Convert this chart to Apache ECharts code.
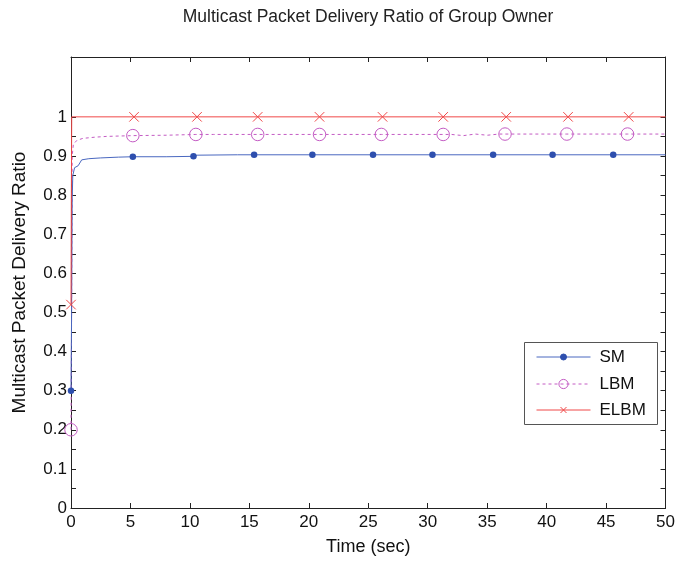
<!DOCTYPE html>
<html>
<head>
<meta charset="utf-8">
<script src="https://cdn.jsdelivr.net/npm/echarts@6/dist/echarts.min.js"></script>
<style>html,body{margin:0;padding:0;background:#fff}#chart{width:678px;height:561px}</style>
</head>
<body>
<div id="chart"></div>
<script>
// ---- data ----
const seriesNames = ['SM', 'LBM', 'ELBM'];
// curve samples (time in sec, ratio)
const smCurveT = [0, 0.05, 0.1, 0.15, 0.3, 0.6, 0.9, 1.5, 2.5, 4, 8, 10.4, 10.6, 14, 50];
const smCurveV = [0.3, 0.5, 0.79, 0.85, 0.87, 0.875, 0.89, 0.893, 0.895, 0.897, 0.898, 0.899, 0.902, 0.903, 0.903];
const smMarkT = [0, 5.2, 10.3, 15.4, 20.3, 25.4, 30.4, 35.5, 40.5, 45.6];
const smMarkV = [0.3, 0.898, 0.899, 0.903, 0.903, 0.903, 0.903, 0.903, 0.903, 0.903];

const lbmCurveT = [0, 0.05, 0.1, 0.2, 0.5, 1, 2, 3, 8, 12, 32, 33, 34, 35, 36, 50];
const lbmCurveV = [0.2, 0.5, 0.9, 0.93, 0.94, 0.945, 0.948, 0.95, 0.953, 0.955, 0.955, 0.952, 0.956, 0.953, 0.956, 0.956];
const lbmMarkT = [0, 5.2, 10.5, 15.7, 20.9, 26.1, 31.3, 36.5, 41.7, 46.8];
const lbmMarkV = [0.2, 0.952, 0.955, 0.955, 0.955, 0.955, 0.955, 0.956, 0.956, 0.956];

const elbmCurveT = [0, 0.03, 0.06, 50];
const elbmCurveV = [0.52, 0.8, 1.0, 1.0];
const elbmMarkT = [0, 5.3, 10.6, 15.7, 20.9, 26.2, 31.3, 36.6, 41.8, 46.9];
const elbmMarkV = [0.52, 1, 1, 1, 1, 1, 1, 1, 1, 1];

const xTicks = [0, 5, 10, 15, 20, 25, 30, 35, 40, 45, 50];
const yLabelTicks = [0, 0.1, 0.2, 0.3, 0.4, 0.5, 0.6, 0.7, 0.8, 0.9, 1];
const yTicks = [0, 0.05, 0.1, 0.15, 0.2, 0.25, 0.3, 0.35, 0.4, 0.45, 0.5, 0.55, 0.6, 0.65, 0.7, 0.75, 0.8, 0.85, 0.9, 0.95, 1];

// ---- build ----
function build(ct, cv, mt, mv) {
  const pts = [];
  ct.forEach((t, i) => pts.push({ t: t, v: cv[i], m: false }));
  mt.forEach((t, i) => pts.push({ t: t, v: mv[i], m: true }));
  pts.sort((a, b) => a.t - b.t || (a.m ? 1 : -1));
  return pts.map(p => p.m ? { value: [p.t, p.v] } : { value: [p.t, p.v], symbol: 'none' });
}

const FONT = 'Liberation Sans, Arial, sans-serif';
const crossPath = 'path://M0,0L10,10M10,0L0,10';
const colors = { SM: '#2E4FAE', SMline: '#4A68C0', LBM: '#C45CC4', ELBM: '#F04848' };

const chart = echarts.init(document.getElementById('chart'), null, { renderer: 'canvas' });
const axisLineStyle = { color: '#222', width: 1 };

function legendFor(name, top, itemHeight) {
  return {
    data: [name], orient: 'horizontal', left: 536, top: top, padding: 0,
    itemWidth: 54, itemHeight: itemHeight, z: 6,
    lineStyle: { width: 1 },
    itemStyle: { borderWidth: 1 },
    textStyle: { fontFamily: FONT, fontSize: 17, color: '#111', lineHeight: 18, padding: [0, 0, 0, 4] },
    selectedMode: false
  };
}

chart.setOption({
  animation: false,
  backgroundColor: '#fff',
  title: {
    text: 'Multicast Packet Delivery Ratio of Group Owner',
    left: 368, top: 8, textAlign: 'center', padding: 0,
    textStyle: { fontFamily: FONT, fontSize: 17.5, fontWeight: 'normal', color: '#222' }
  },
  graphic: [{
    type: 'rect', z: 1,
    shape: { x: 524.5, y: 342.5, width: 133, height: 82 },
    style: { fill: '#fff', stroke: '#555', lineWidth: 1 }
  }],
  grid: { left: 71, right: 12, top: 57, bottom: 53 },
  legend: [
    legendFor('SM', 348, 7.5),
    legendFor('LBM', 375, 11.5),
    legendFor('ELBM', 401, 7.5)
  ],
  xAxis: [{
    type: 'value', min: 0, max: 50, interval: 5, position: 'bottom',
    name: 'Time (sec)', nameLocation: 'middle', nameGap: 30,
    nameTextStyle: { fontFamily: FONT, fontSize: 18, color: '#111' },
    axisLine: { show: true, onZero: false, lineStyle: axisLineStyle },
    axisTick: { show: true, inside: true, length: 5, lineStyle: axisLineStyle, customValues: xTicks },
    axisLabel: { fontFamily: FONT, fontSize: 17, color: '#111', margin: 6, customValues: xTicks },
    splitLine: { show: false }
  }, {
    type: 'value', min: 0, max: 50, interval: 5, position: 'top',
    axisLine: { show: true, onZero: false, lineStyle: axisLineStyle },
    axisTick: { show: true, inside: true, length: 5, lineStyle: axisLineStyle, customValues: xTicks },
    axisLabel: { show: false }, splitLine: { show: false }
  }],
  yAxis: [{
    type: 'value', min: 0, max: 1.153, position: 'left',
    name: 'Multicast Packet Delivery Ratio', nameLocation: 'middle', nameGap: 42,
    nameTextStyle: { fontFamily: FONT, fontSize: 19, color: '#111' },
    axisLine: { show: true, onZero: false, lineStyle: axisLineStyle },
    axisTick: { show: true, inside: true, length: 5, lineStyle: axisLineStyle, customValues: yTicks },
    axisLabel: { fontFamily: FONT, fontSize: 17, color: '#111', margin: 4, customValues: yLabelTicks,
      formatter: v => String(Math.round(v * 10) / 10) },
    splitLine: { show: false }
  }, {
    type: 'value', min: 0, max: 1.153, position: 'right',
    axisLine: { show: true, onZero: false, lineStyle: axisLineStyle },
    axisTick: { show: true, inside: true, length: 5, lineStyle: axisLineStyle, customValues: yTicks },
    axisLabel: { show: false }, splitLine: { show: false }
  }],
  series: [{
    name: 'SM', type: 'line', xAxisIndex: 0, yAxisIndex: 0,
    data: build(smCurveT, smCurveV, smMarkT, smMarkV),
    symbol: 'circle', symbolSize: 6.5, showAllSymbol: true,
    lineStyle: { color: colors.SMline, width: 1 },
    itemStyle: { color: colors.SM, borderColor: colors.SM, borderWidth: 0 }, z: 3
  }, {
    name: 'LBM', type: 'line', xAxisIndex: 0, yAxisIndex: 0,
    data: build(lbmCurveT, lbmCurveV, lbmMarkT, lbmMarkV),
    symbol: 'circle', symbolSize: 12.5, showAllSymbol: true,
    lineStyle: { color: colors.LBM, width: 1, type: [3, 3] },
    itemStyle: { color: 'rgba(0,0,0,0)', borderColor: colors.LBM, borderWidth: 1 }, z: 2
  }, {
    name: 'ELBM', type: 'line', xAxisIndex: 0, yAxisIndex: 0,
    data: build(elbmCurveT, elbmCurveV, elbmMarkT, elbmMarkV),
    symbol: crossPath, symbolSize: 9.5, showAllSymbol: true,
    lineStyle: { color: colors.ELBM, width: 1 },
    itemStyle: { color: 'rgba(0,0,0,0)', borderColor: colors.ELBM, borderWidth: 1 }, z: 4
  }]
});
</script>
</body>
</html>
